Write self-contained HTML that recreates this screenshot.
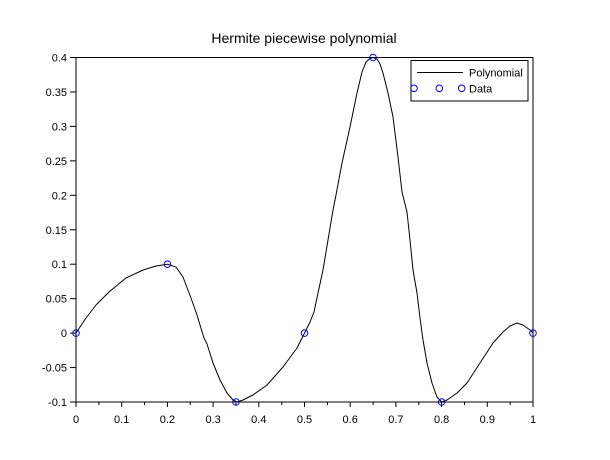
<!DOCTYPE html>
<html><head><meta charset="utf-8"><style>
html,body{margin:0;padding:0;background:#fff;}
svg{display:block;font-family:"Liberation Sans",Arial,sans-serif;}
</style></head><body>
<svg width="610" height="460" viewBox="0 0 610 460" xmlns="http://www.w3.org/2000/svg">
<rect width="610" height="460" fill="#fff"/>
<text x="304" y="43" font-size="14" text-anchor="middle" fill="#000">Hermite piecewise polynomial</text>
<rect x="76" y="57.5" width="457" height="344.5" fill="none" stroke="#000" stroke-width="1"/>
<g stroke="#000" stroke-width="1">
<line x1="76" y1="402" x2="76" y2="407"/>
<line x1="121.7" y1="402" x2="121.7" y2="407"/>
<line x1="167.4" y1="402" x2="167.4" y2="407"/>
<line x1="213.1" y1="402" x2="213.1" y2="407"/>
<line x1="258.8" y1="402" x2="258.8" y2="407"/>
<line x1="304.5" y1="402" x2="304.5" y2="407"/>
<line x1="350.2" y1="402" x2="350.2" y2="407"/>
<line x1="395.9" y1="402" x2="395.9" y2="407"/>
<line x1="441.6" y1="402" x2="441.6" y2="407"/>
<line x1="487.3" y1="402" x2="487.3" y2="407"/>
<line x1="533" y1="402" x2="533" y2="407"/>
<line x1="98.9" y1="402" x2="98.9" y2="405"/>
<line x1="144.6" y1="402" x2="144.6" y2="405"/>
<line x1="190.3" y1="402" x2="190.3" y2="405"/>
<line x1="236" y1="402" x2="236" y2="405"/>
<line x1="281.7" y1="402" x2="281.7" y2="405"/>
<line x1="327.4" y1="402" x2="327.4" y2="405"/>
<line x1="373.1" y1="402" x2="373.1" y2="405"/>
<line x1="418.8" y1="402" x2="418.8" y2="405"/>
<line x1="464.5" y1="402" x2="464.5" y2="405"/>
<line x1="510.2" y1="402" x2="510.2" y2="405"/>
<line x1="70" y1="57.5" x2="76" y2="57.5"/>
<line x1="70" y1="91.95" x2="76" y2="91.95"/>
<line x1="70" y1="126.4" x2="76" y2="126.4"/>
<line x1="70" y1="160.85" x2="76" y2="160.85"/>
<line x1="70" y1="195.3" x2="76" y2="195.3"/>
<line x1="70" y1="229.75" x2="76" y2="229.75"/>
<line x1="70" y1="264.2" x2="76" y2="264.2"/>
<line x1="70" y1="298.65" x2="76" y2="298.65"/>
<line x1="70" y1="333.1" x2="76" y2="333.1"/>
<line x1="70" y1="367.55" x2="76" y2="367.55"/>
<line x1="70" y1="402" x2="76" y2="402"/>
</g>
<g font-size="11" fill="#000" text-anchor="middle">
<text x="76" y="423">0</text>
<text x="121.7" y="423">0.1</text>
<text x="167.4" y="423">0.2</text>
<text x="213.1" y="423">0.3</text>
<text x="258.8" y="423">0.4</text>
<text x="304.5" y="423">0.5</text>
<text x="350.2" y="423">0.6</text>
<text x="395.9" y="423">0.7</text>
<text x="441.6" y="423">0.8</text>
<text x="487.3" y="423">0.9</text>
<text x="533" y="423">1</text>
</g>
<g font-size="11" fill="#000" text-anchor="end">
<text x="67" y="61.5">0.4</text>
<text x="67" y="96">0.35</text>
<text x="67" y="130.4">0.3</text>
<text x="67" y="164.9">0.25</text>
<text x="67" y="199.3">0.2</text>
<text x="67" y="233.8">0.15</text>
<text x="67" y="268.2">0.1</text>
<text x="67" y="302.7">0.05</text>
<text x="67" y="337.1">0</text>
<text x="67" y="371.6">-0.05</text>
<text x="67" y="406">-0.1</text>
</g>
<polyline fill="none" stroke="#000" stroke-width="1" stroke-linejoin="round" points="76,333 86,318 96,305 109,292 126,278 143,270 156,266 167.4,264.2 176,267 183,277 191,298 197,315 200,325 204,338 207,344 213,363 220,380 227,393 233,400 237,402 243,400 253,395 267,385 283,367 297,348 304.5,333.1 310,322 314,312 318,293 323,270 328,240 333,210 336,195 342,163 350,127 357,93 362,72 366,62 370,58.5 373,57.5 377,59 380,64 383,73 388,93 393,117 398,157 402,192 407,212 410,240 413,270 417,293 420,318 423,340 427,363 432,383 437,397 441.6,402 447,400 457,393 467,383 480,363 493,343 503,332 510,326 517,323 523,325 530,330 533,333"/>
<g fill="none" stroke="#0000ff" stroke-width="1">
<circle cx="76" cy="333.1" r="3.3"/>
<circle cx="167.4" cy="264.2" r="3.3"/>
<circle cx="236" cy="402" r="3.3"/>
<circle cx="304.5" cy="333.1" r="3.3"/>
<circle cx="373" cy="57.5" r="3.3"/>
<circle cx="441.6" cy="402" r="3.3"/>
<circle cx="533" cy="333.1" r="3.3"/>
</g>
<rect x="411" y="60.5" width="117" height="40.5" fill="#fff" stroke="#000" stroke-width="1"/>
<line x1="417" y1="72.5" x2="463" y2="72.5" stroke="#000" stroke-width="1"/>
<text x="469" y="76.5" font-size="11" fill="#000">Polynomial</text>
<g fill="none" stroke="#0000ff" stroke-width="1">
<circle cx="414" cy="88.3" r="3.3"/>
<circle cx="439.3" cy="88.3" r="3.3"/>
<circle cx="461.7" cy="88.3" r="3.3"/>
</g>
<text x="469" y="92.3" font-size="11" fill="#000">Data</text>
</svg>
</body></html>
